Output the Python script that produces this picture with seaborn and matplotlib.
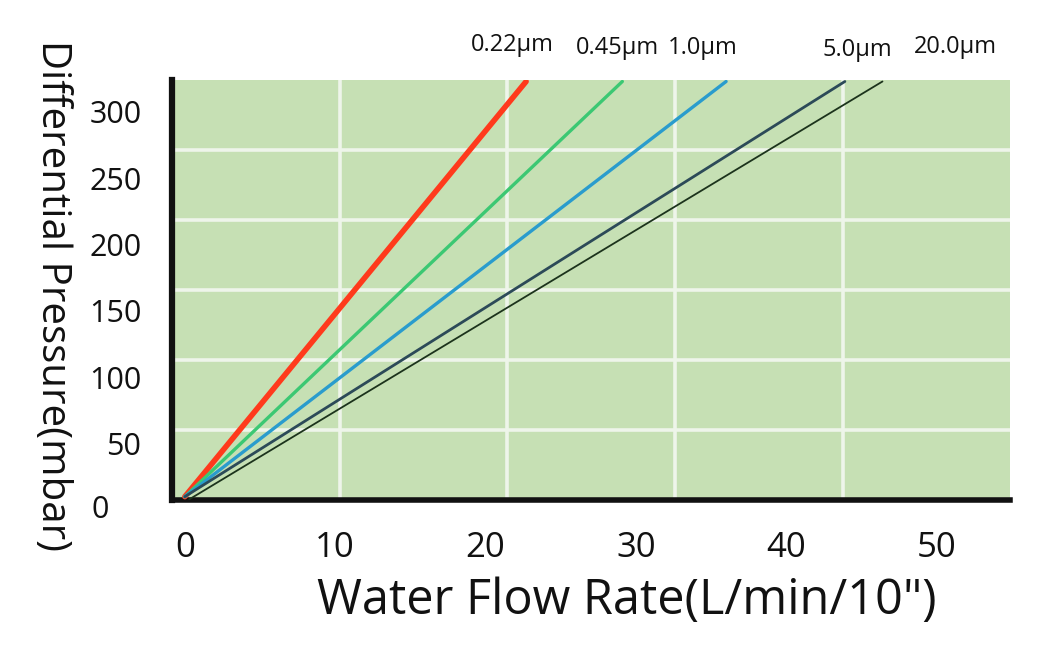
import numpy as np
import pandas as pd
import matplotlib
matplotlib.use("Agg")
import matplotlib.pyplot as plt
import seaborn as sns
from matplotlib.ticker import FixedLocator

# ---- data ----
series_names = ["0.22μm", "0.45μm", "1.0μm", "5.0μm", "20.0μm"]
flow_start = [0.0, 0.0, 0.0, 0.0, 0.3]
flow_end = [22.7, 29.1, 36.0, 43.9, 46.4]
pressure_start = [10.0, 10.0, 10.0, 10.0, 8.0]
pressure_end = [323.0, 323.0, 323.0, 323.0, 323.0]
x_ticks = [0, 10, 20, 30, 40, 50]
y_ticks = [0, 50, 100, 150, 200, 250, 300]
x_label = 'Water Flow Rate(L/min/10")'
y_label = "Differential Pressure(mbar)"

colors = ["#ff3a1c", "#3cc873", "#2a9ccd", "#2c4a58", "#1c331c"]
widths = [4.0, 2.4, 2.4, 2.0, 1.3]

rows = []
for n, x0, x1, y0, y1 in zip(series_names, flow_start, flow_end, pressure_start, pressure_end):
    rows.append({"filter": n, "flow": x0, "dp": y0})
    rows.append({"filter": n, "flow": x1, "dp": y1})
df = pd.DataFrame(rows)

sns.set_theme(style="white")
plt.rcParams["font.family"] = ["Open Sans", "DejaVu Sans"]

fig = plt.figure(figsize=(10.48, 6.68), dpi=100)
ax = fig.add_axes([0.164, 0.2515, 0.80, 0.6285])
ax.set_facecolor("#c6e0b4")

for n, c, w in zip(series_names, colors, widths):
    sns.lineplot(data=df[df["filter"] == n], x="flow", y="dp", color=c,
                 linewidth=w, ax=ax, legend=False, zorder=3)

xlim = (-0.86, 54.9)
ylim = (7.5, 324.0)
ax.set_xlim(*xlim)
ax.set_ylim(*ylim)

ax.set_xticks(x_ticks)
ax.set_yticks(y_ticks[1:])
ax.set_xticklabels([str(v) for v in x_ticks], fontsize=25, color="#111111")
ax.set_yticklabels([str(v) for v in y_ticks[1:]], fontsize=22, color="#111111")
ax.tick_params(axis="x", length=0, pad=22)
ax.tick_params(axis="y", length=0, pad=22)

# the "0" y tick label sits slightly below the axis
ax.text(-0.086, -0.025, "0", transform=ax.transAxes, fontsize=22,
        ha="center", va="center", color="#111111", clip_on=False)

# grid (evenly splits the panel)
gx = [xlim[0] + f * (xlim[1] - xlim[0]) for f in (0.2, 0.4, 0.6, 0.8)]
gy = [ylim[0] + f * (ylim[1] - ylim[0]) for f in (1/6, 2/6, 3/6, 4/6, 5/6)]
ax.xaxis.set_minor_locator(FixedLocator(gx))
ax.yaxis.set_minor_locator(FixedLocator(gy))
ax.tick_params(which="minor", length=0)
ax.grid(False, which="major")
ax.grid(True, which="minor", color="#eef5ea", linewidth=2.6)
ax.set_axisbelow(True)

for s in ("top", "right"):
    ax.spines[s].set_visible(False)
ax.spines["left"].set_color("#111111")
ax.spines["left"].set_linewidth(4.5)
ax.spines["bottom"].set_color("#111111")
ax.spines["bottom"].set_linewidth(4.0)

ax.set_xlabel("")
ax.set_ylabel("")
fig.text(0.598, 0.10, x_label, fontsize=35, ha="center", va="center", color="#111111")
fig.text(0.05, 0.558, y_label, fontsize=29, ha="center", va="center",
         rotation=270, color="#111111")

# series labels above the panel
label_x = [512, 617, 703, 857, 955]
label_y = [45, 48, 48, 50, 47]
for n, lx, ly in zip(series_names, label_x, label_y):
    fig.text(lx / 1048, 1 - ly / 668, n, fontsize=17, ha="center", va="center", color="#111111")

fig.savefig("out.png", dpi=100)
